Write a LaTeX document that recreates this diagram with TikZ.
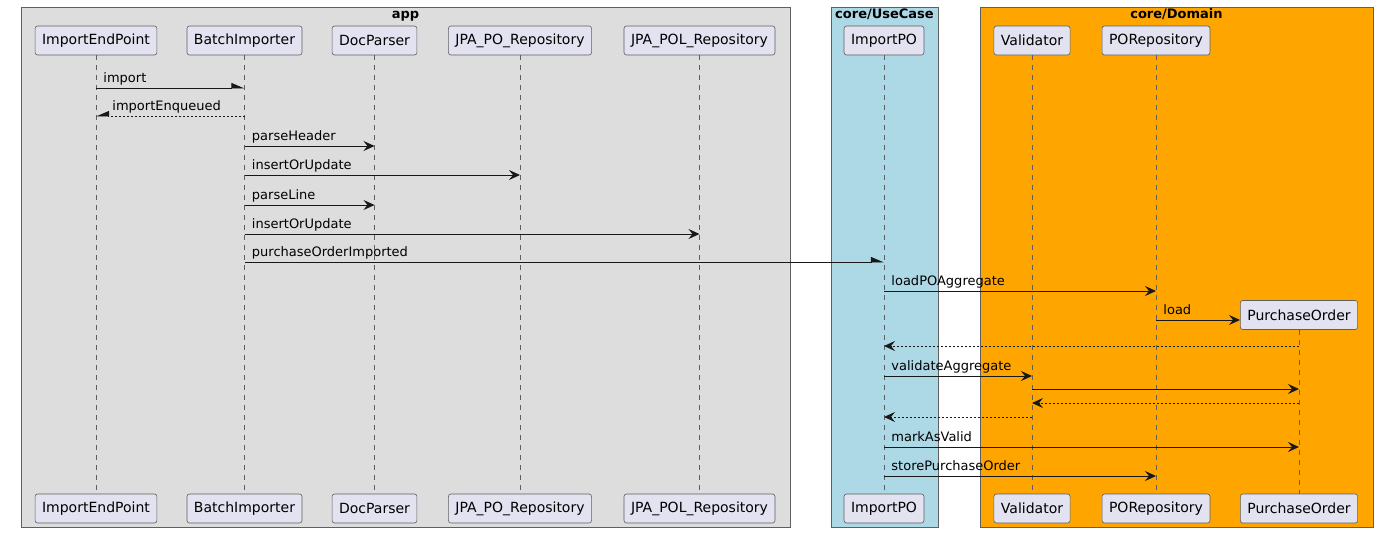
\documentclass[tikz,border=0pt]{standalone}
\usepackage{fontspec}
\setmainfont{DejaVu Sans}
\usetikzlibrary{arrows.meta}

\definecolor{appgray}{HTML}{DDDDDD}
\definecolor{usecaseblue}{HTML}{ADD8E6}
\definecolor{domainorange}{HTML}{FFA500}
\definecolor{partfill}{HTML}{E2E2F0}
\definecolor{edgegray}{HTML}{5F5F5F}
\definecolor{msgline}{HTML}{181818}

\tikzset{
  part/.style={draw=edgegray, fill=partfill, rounded corners=2.5pt, line width=0.6pt,
    minimum height=29pt, inner xsep=7pt, font=\fontsize{14}{16}\selectfont},
  lifeline/.style={draw=edgegray, line width=0.6pt, dash pattern=on 5pt off 5pt},
  msg/.style={draw=msgline, line width=0.9pt, -{Stealth[length=11pt,width=10pt,inset=4pt]}},
  reply/.style={msg, dash pattern=on 2pt off 2pt},
  async/.style={draw=msgline, line width=0.9pt, -{Triangle[harpoon,length=12pt,width=10pt]}},
  lbl/.style={font=\fontsize{13}{15}\selectfont, anchor=base west, inner sep=0pt, pos=0, yshift=5.5pt},
  boxtitle/.style={font=\bfseries\fontsize{13}{15}\selectfont, inner sep=0pt, anchor=base}
}

\begin{document}
\begin{tikzpicture}[x=1pt, y=-1pt]
    \useasboundingbox (0,0) rectangle (1377,533);

    % Boxes
    \filldraw[fill=appgray, draw=edgegray, line width=0.6pt] (21,7) rectangle (790,527);
    \filldraw[fill=usecaseblue, draw=edgegray, line width=0.6pt] (831,7) rectangle (938,527);
    \filldraw[fill=domainorange, draw=edgegray, line width=0.6pt] (980,7) rectangle (1373,527);
    \node[boxtitle] (apptitle) at (405.5,18) {app};
    \node[boxtitle] (usecasetitle) at (884.5,18) {core/UseCase};
    \node[boxtitle] (domaintitle) at (1176.5,18) {core/Domain};

    % Participants (top)
    \node[part] (iep) at (96,40.5) {ImportEndPoint};
    \node[part] (bi) at (244.5,40.5) {BatchImporter};
    \node[part] (dp) at (374.5,40.5) {DocParser};
    \node[part] (jpo) at (520,40.5) {JPA\_PO\_Repository};
    \node[part] (jpol) at (699.5,40.5) {JPA\_POL\_Repository};
    \node[part] (ipo) at (884,40.5) {ImportPO};
    \node[part] (val) at (1032,40.5) {Validator};
    \node[part] (porep) at (1156,40.5) {PORepository};
    \node[part] (po) at (1299,315) {PurchaseOrder};

    % Participants (bottom)
    \node[part] (iepb) at (96,508.5) {ImportEndPoint};
    \node[part] (bib) at (244.5,508.5) {BatchImporter};
    \node[part] (dpb) at (374.5,508.5) {DocParser};
    \node[part] (jpob) at (520,508.5) {JPA\_PO\_Repository};
    \node[part] (jpolb) at (699.5,508.5) {JPA\_POL\_Repository};
    \node[part] (ipob) at (884,508.5) {ImportPO};
    \node[part] (valb) at (1032,508.5) {Validator};
    \node[part] (porepb) at (1156,508.5) {PORepository};
    \node[part] (pob) at (1299,508.5) {PurchaseOrder};

    % Lifelines
    \foreach \p in {iep,bi,dp,jpo,jpol,ipo,val,porep,po}
        \draw[lifeline] (\p.south) -- (\p b.north);

    % Messages
    \draw[async] (iep |- 0,88) -- node[lbl, xshift=7pt] {import} (bi |- 0,88);
    \draw[async, dash pattern=on 2pt off 2pt, -{Triangle[harpoon,swap,length=12pt,width=10pt]}] (bi |- 0,116) -- node[lbl, pos=1, xshift=16pt] {importEnqueued} (iep |- 0,116);
    \draw[msg] (bi |- 0,146) -- node[lbl, xshift=7pt] {parseHeader} (dp |- 0,146);
    \draw[msg] (bi |- 0,175) -- node[lbl, xshift=7pt] {insertOrUpdate} (jpo |- 0,175);
    \draw[msg] (bi |- 0,205) -- node[lbl, xshift=7pt] {parseLine} (dp |- 0,205);
    \draw[msg] (bi |- 0,234) -- node[lbl, xshift=7pt] {insertOrUpdate} (jpol |- 0,234);
    \draw[async] (bi |- 0,262) -- node[lbl, xshift=7pt] {purchaseOrderImported} (ipo |- 0,262);
    \draw[msg] (ipo |- 0,291) -- node[lbl, xshift=7pt] {loadPOAggregate} (porep |- 0,291);
    \draw[msg] (porep |- 0,320) -- node[lbl, xshift=7pt] {load} (po.west |- 0,320);
    \draw[reply] (po |- 0,346) -- (ipo |- 0,346);
    \draw[msg] (ipo |- 0,376) -- node[lbl, xshift=7pt] {validateAggregate} (val |- 0,376);
    \draw[msg] (val |- 0,389) -- (po |- 0,389);
    \draw[reply] (po |- 0,403) -- (val |- 0,403);
    \draw[reply] (val |- 0,417) -- (ipo |- 0,417);
    \draw[msg] (ipo |- 0,447) -- node[lbl, xshift=7pt] {markAsValid} (po |- 0,447);
    \draw[msg] (ipo |- 0,476) -- node[lbl, xshift=7pt] {storePurchaseOrder} (porep |- 0,476);

\end{tikzpicture}
\end{document}
